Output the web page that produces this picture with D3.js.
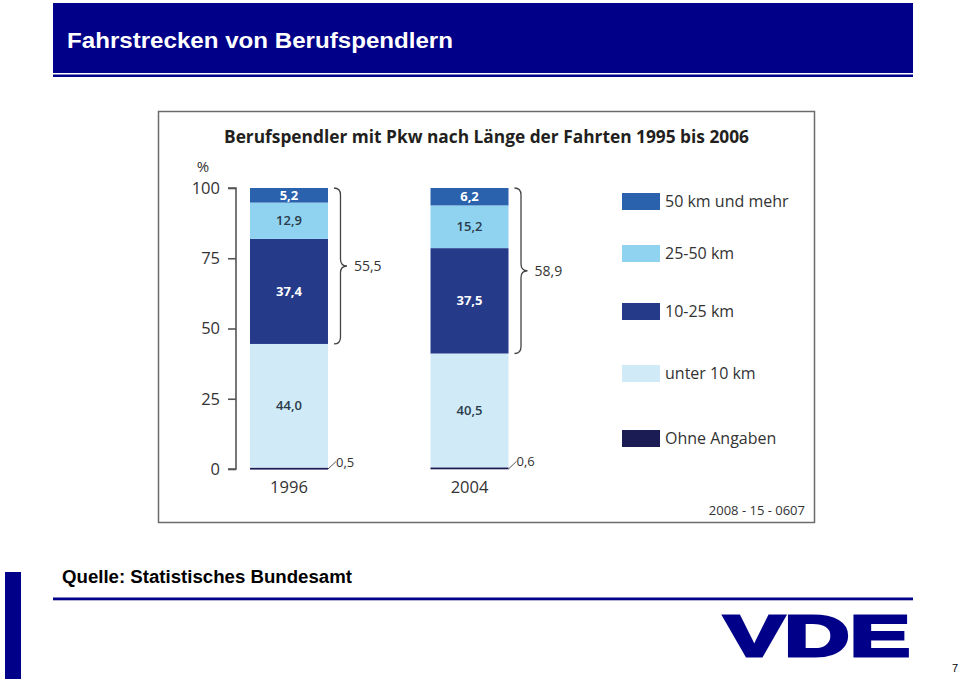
<!DOCTYPE html>
<html>
<head>
<meta charset="utf-8">
<script src="https://cdn.jsdelivr.net/npm/d3@7"></script>
<style>
html,body{margin:0;padding:0;background:#fff;}
svg{display:block;}
</style>
</head>
<body>
<svg id="chart" width="960" height="680"></svg>
<script>
// ---- data ----
const years = ["1996", "2004"];
const categories = ["Ohne Angaben", "unter 10 km", "10-25 km", "25-50 km", "50 km und mehr"];
const values1996 = [0.5, 44.0, 37.4, 12.9, 5.2];
const values2004 = [0.6, 40.5, 37.5, 15.2, 6.2];
const braceTotals = [55.5, 58.9];
const yTicks = [0, 25, 50, 75, 100];
const legendOrder = ["50 km und mehr", "25-50 km", "10-25 km", "unter 10 km", "Ohne Angaben"];
const colors = ["#1c1c55", "#d0ebf7", "#253a89", "#8fd3f0", "#2a62ae"];
const labelColors = [null, "#2b3a4a", "#ffffff", "#2b3a4a", "#ffffff"];

const fmt = v => d3.format(".1f")(v).replace(".", ",");

const svg = d3.select("#chart");
const navy = "#000088";

// ---- slide header ----
svg.append("rect").attr("x", 53).attr("y", 3).attr("width", 860).attr("height", 70).attr("fill", navy);
svg.append("rect").attr("x", 53).attr("y", 74.5).attr("width", 860).attr("height", 2.5).attr("fill", navy);
svg.append("text").attr("x", 67).attr("y", 48)
  .attr("font-family", "Liberation Sans, Arial, sans-serif").attr("font-weight", "bold")
  .attr("font-size", 21.5).attr("fill", "#fff")
  .attr("textLength", 386).attr("lengthAdjust", "spacingAndGlyphs")
  .text("Fahrstrecken von Berufspendlern");

// ---- chart frame ----
svg.append("rect").attr("x", 158.5).attr("y", 111.5).attr("width", 656).attr("height", 411)
  .attr("fill", "#fff").attr("stroke", "#6b6b6b").attr("stroke-width", 1.5);

const cf = "Open Sans, Lato, sans-serif";
svg.append("text").attr("x", 224).attr("y", 143)
  .attr("font-family", cf).attr("font-weight", "bold").attr("font-size", 17.5).attr("fill", "#231f20")
  .attr("textLength", 525).attr("lengthAdjust", "spacingAndGlyphs")
  .text("Berufspendler mit Pkw nach Länge der Fahrten 1995 bis 2006");

// ---- scales ----
const y = d3.scaleLinear().domain([0, 100]).range([469, 188]);
const x = d3.scaleBand().domain(years).range([250, 508.5]).paddingInner(0.568).paddingOuter(0);

// y axis
const yAxis = d3.axisLeft(y).tickValues(yTicks).tickSize(8).tickPadding(8).tickFormat(d3.format("d"));
const gy = svg.append("g").attr("transform", "translate(236,0)").call(yAxis);
gy.select(".domain").attr("stroke", "#555").attr("stroke-width", 1.6).attr("d", `M-8,${y(100)}H0V${y(0)}H-8`);
gy.selectAll(".tick line").attr("stroke", "#555").attr("stroke-width", 1.6);
gy.selectAll(".tick text").attr("font-family", cf).attr("font-size", 16.5).attr("fill", "#333");
svg.append("text").attr("x", 203).attr("y", 172).attr("text-anchor", "middle")
  .attr("font-family", cf).attr("font-size", 15).attr("fill", "#333").text("%");

// ---- stacked bars ----
const series = [values1996, values2004];
series.forEach((vals, i) => {
  const yr = years[i];
  const x0 = x(yr), bw = x.bandwidth();
  let cum = 0;
  vals.forEach((v, k) => {
    const lo = cum, hi = cum + v;
    cum = hi;
    svg.append("rect").attr("x", x0).attr("width", bw)
      .attr("y", y(hi)).attr("height", Math.max(2, y(lo) - y(hi))).attr("fill", colors[k]);
    if (k === 0) {
      svg.append("path").attr("d", `M${x0 + bw},${y(lo)} L${x0 + bw + 8},${y(hi) - 6}`)
        .attr("stroke", "#555").attr("stroke-width", 1).attr("fill", "none");
      svg.append("text").attr("x", x0 + bw + 8).attr("y", y(hi) - 1)
        .attr("font-family", cf).attr("font-size", 13).attr("fill", "#333").text(fmt(v));
    } else {
      const white = labelColors[k] === "#ffffff";
      svg.append("text").attr("x", x0 + bw / 2).attr("y", (y(lo) + y(hi)) / 2 + 4.5)
        .attr("text-anchor", "middle").attr("font-family", cf)
        .attr("font-weight", white ? "bold" : "600").attr("font-size", 13)
        .attr("fill", labelColors[k]).text(fmt(v));
    }
  });
  svg.append("text").attr("x", x0 + bw / 2).attr("y", 493).attr("text-anchor", "middle")
    .attr("font-family", cf).attr("font-size", 16.5).attr("fill", "#333").text(yr);

  // brace
  const bx = x0 + bw + 6, w = 13;
  const y0 = y(100), y1 = y(100 - braceTotals[i]);
  const ym = (y0 + y1) / 2, r = 7, mx = bx + w / 2;
  const d = `M${bx},${y0} Q${mx},${y0} ${mx},${y0 + r} L${mx},${ym - r} Q${mx},${ym} ${bx + w},${ym} ` +
            `Q${mx},${ym} ${mx},${ym + r} L${mx},${y1 - r} Q${mx},${y1} ${bx},${y1}`;
  svg.append("path").attr("d", d).attr("fill", "none").attr("stroke", "#444").attr("stroke-width", 1.3);
  svg.append("text").attr("x", bx + w + 7).attr("y", ym + 5)
    .attr("font-family", cf).attr("font-size", 14).attr("fill", "#333").text(fmt(braceTotals[i]));
});

// ---- legend ----
const legendY = [193, 245, 303, 365, 430];
legendOrder.forEach((name, i) => {
  const k = categories.indexOf(name);
  svg.append("rect").attr("x", 622).attr("y", legendY[i]).attr("width", 38).attr("height", 17).attr("fill", colors[k]);
  svg.append("text").attr("x", 665).attr("y", legendY[i] + 14)
    .attr("font-family", cf).attr("font-size", 16).attr("fill", "#333").text(name);
});

svg.append("text").attr("x", 805).attr("y", 515).attr("text-anchor", "end")
  .attr("font-family", cf).attr("font-size", 13).attr("fill", "#333").text("2008 - 15 - 0607");

// ---- footer ----
svg.append("rect").attr("x", 5).attr("y", 572).attr("width", 16).attr("height", 107).attr("fill", navy);
svg.append("text").attr("x", 62).attr("y", 583)
  .attr("font-family", "Liberation Sans, Arial, sans-serif").attr("font-weight", "bold")
  .attr("font-size", 17.5).attr("fill", "#000")
  .attr("textLength", 290).attr("lengthAdjust", "spacingAndGlyphs")
  .text("Quelle: Statistisches Bundesamt");
svg.append("rect").attr("x", 53).attr("y", 597.5).attr("width", 860).attr("height", 2.8).attr("fill", navy);
svg.append("text").attr("x", 724).attr("y", 656)
  .attr("font-family", "Liberation Sans, Arial, sans-serif").attr("font-weight", "bold")
  .attr("font-size", 58).attr("fill", navy).attr("stroke", navy).attr("stroke-width", 3)
  .attr("textLength", 186).attr("lengthAdjust", "spacingAndGlyphs").text("VDE");
svg.append("text").attr("x", 958).attr("y", 672).attr("text-anchor", "end")
  .attr("font-family", "Liberation Sans, Arial, sans-serif").attr("font-size", 11).attr("fill", "#000").text("7");
</script>
</body>
</html>
